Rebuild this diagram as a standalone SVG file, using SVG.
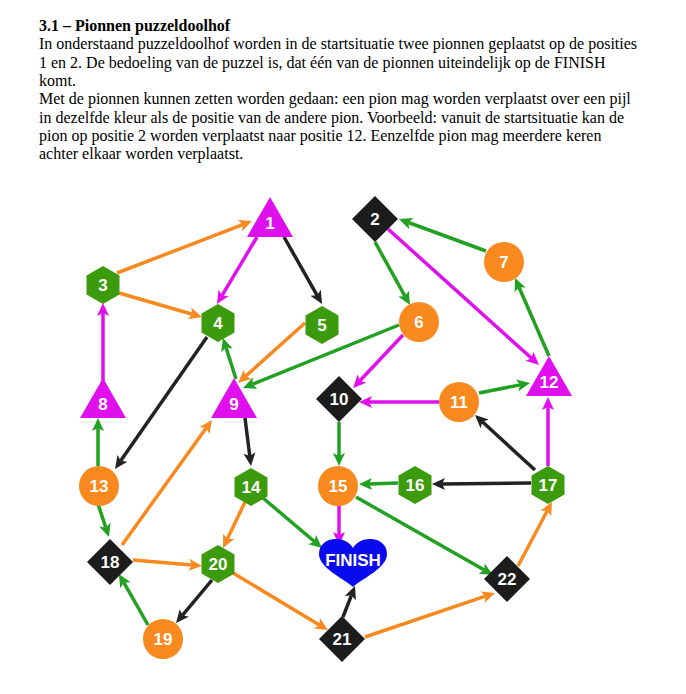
<svg xmlns="http://www.w3.org/2000/svg" width="686" height="694" viewBox="0 0 686 694">
<style>
.t{font-family:"Liberation Serif","Times New Roman",serif;font-size:16px;fill:#000}
.tb{font-weight:bold}
.e{fill:none;stroke-width:3.5}
.o{stroke:#F7891F}.m{stroke:#E010EE}.g{stroke:#22A022}.k{stroke:#222}
.hex{fill:#3C9B0C}.cir{fill:#F7891F}.tri{fill:#E010EE}.dia{fill:#1C1C1C}.heart{fill:#0A0AEE}
.lb{font-family:"Liberation Sans",Arial,sans-serif;font-weight:bold;font-size:17px;fill:#fff;text-anchor:middle}
</style>
<defs>
<marker id="ao" markerUnits="userSpaceOnUse" markerWidth="14" markerHeight="13" refX="3" refY="6.5" orient="auto" overflow="visible"><path d="M0,0.5 L13,6.5 L0,12.5 L3,6.5 Z" fill="#F7891F"/></marker>
<marker id="am" markerUnits="userSpaceOnUse" markerWidth="14" markerHeight="13" refX="3" refY="6.5" orient="auto" overflow="visible"><path d="M0,0.5 L13,6.5 L0,12.5 L3,6.5 Z" fill="#E010EE"/></marker>
<marker id="ag" markerUnits="userSpaceOnUse" markerWidth="14" markerHeight="13" refX="3" refY="6.5" orient="auto" overflow="visible"><path d="M0,0.5 L13,6.5 L0,12.5 L3,6.5 Z" fill="#22A022"/></marker>
<marker id="ak" markerUnits="userSpaceOnUse" markerWidth="14" markerHeight="13" refX="3" refY="6.5" orient="auto" overflow="visible"><path d="M0,0.5 L13,6.5 L0,12.5 L3,6.5 Z" fill="#222"/></marker>
<polygon id="hexs" points="0,-19 16.5,-9.5 16.5,9.5 0,19 -16.5,9.5 -16.5,-9.5"/>
<polygon id="tris" points="0,-22 23,18 -23,18"/>
<polygon id="dias" points="0,-23 23,0 0,23 -23,0"/>
</defs>
<rect width="686" height="694" fill="#fff"/>
<g id="text">
<text class="t tb" x="39" y="31">3.1 – Pionnen puzzeldoolhof</text>
<text class="t" x="39" y="49.3">In onderstaand puzzeldoolhof worden in de startsituatie twee pionnen geplaatst op de posities</text>
<text class="t" x="39" y="67.6">1 en 2. De bedoeling van de puzzel is, dat één van de pionnen uiteindelijk op de FINISH</text>
<text class="t" x="39" y="85.9">komt.</text>
<text class="t" x="39" y="104.2">Met de pionnen kunnen zetten worden gedaan: een pion mag worden verplaatst over een pijl</text>
<text class="t" x="39" y="122.5">in dezelfde kleur als de positie van de andere pion. Voorbeeld: vanuit de startsituatie kan de</text>
<text class="t" x="39" y="140.8">pion op positie 2 worden verplaatst naar positie 12. Eenzelfde pion mag meerdere keren</text>
<text class="t" x="39" y="159.1">achter elkaar worden verplaatst.</text>
</g>
<g id="connectors">
<path class="e o" marker-end="url(#ao)" d="M117,273 L242.7,224.6"/>
<path class="e o" marker-end="url(#ao)" d="M119,293 L192.4,314.2"/>
<path class="e m" marker-end="url(#am)" d="M257,237 L222.1,295.4"/>
<path class="e k" marker-end="url(#ak)" d="M284,237 L317.1,295.3"/>
<path class="e m" marker-end="url(#am)" d="M103,381 L103,313"/>
<path class="e k" marker-end="url(#ak)" d="M207,337 L120.7,460.8"/>
<path class="e g" marker-end="url(#ag)" d="M236,379 L226,347.5"/>
<path class="e o" marker-end="url(#ao)" d="M305,323 L245.5,376.3"/>
<path class="e g" marker-end="url(#ag)" d="M399,325 L252.3,384.3"/>
<path class="e k" marker-end="url(#ak)" d="M245,418 L249.8,456.1"/>
<path class="e g" marker-end="url(#ag)" d="M98,466 L98,428"/>
<path class="e o" marker-end="url(#ao)" d="M122,545 L206.2,428.1"/>
<path class="e g" marker-end="url(#ag)" d="M375,242 L405.1,296.3"/>
<path class="e m" marker-end="url(#am)" d="M388,229 L531.6,358.3"/>
<path class="e g" marker-end="url(#ag)" d="M486,251 L408.4,222.5"/>
<path class="e g" marker-end="url(#ag)" d="M549,356 L519,287.2"/>
<path class="e m" marker-end="url(#am)" d="M403,335 L359.9,380.7"/>
<path class="e m" marker-end="url(#am)" d="M439,402 L369,402"/>
<path class="e g" marker-end="url(#ag)" d="M479,393 L520.2,384.9"/>
<path class="e k" marker-end="url(#ak)" d="M535,470 L482.4,421.8"/>
<path class="e m" marker-end="url(#am)" d="M548,466 L548,407"/>
<path class="e g" marker-end="url(#ag)" d="M339,422 L339,456"/>
<path class="e g" marker-end="url(#ag)" d="M398,483 L369,484"/>
<path class="e k" marker-end="url(#ak)" d="M531,483 L442,484"/>
<path class="e m" marker-end="url(#am)" d="M339,506 L339,535"/>
<path class="e g" marker-end="url(#ag)" d="M356,497 L484.3,570.1"/>
<path class="e o" marker-end="url(#ao)" d="M518,566 L547.3,510.8"/>
<path class="e o" marker-end="url(#ao)" d="M365,637 L485.5,596.2"/>
<path class="e k" marker-end="url(#ak)" d="M343,617 L351.4,595.3"/>
<path class="e g" marker-end="url(#ag)" d="M263,498 L314.4,541.5"/>
<path class="e o" marker-end="url(#ao)" d="M245,502 L227.3,539"/>
<path class="e g" marker-end="url(#ag)" d="M98,504 L105.8,527.5"/>
<path class="e o" marker-end="url(#ao)" d="M133,560 L192,565.1"/>
<path class="e k" marker-end="url(#ak)" d="M212,580 L182.4,615.3"/>
<path class="e g" marker-end="url(#ag)" d="M148,625 L123.9,582.7"/>
<path class="e o" marker-end="url(#ao)" d="M233,573 L319.4,624.9"/>
</g>
<g id="n1" transform="translate(270,219)"><use href="#tris" class="tri"/><text class="lb" y="10">1</text></g>
<g id="n2" transform="translate(375,219)"><use href="#dias" class="dia"/><text class="lb" y="6">2</text></g>
<g id="n3" transform="translate(103,285)"><use href="#hexs" class="hex"/><text class="lb" y="6">3</text></g>
<g id="n4" transform="translate(218,323)"><use href="#hexs" class="hex"/><text class="lb" y="6">4</text></g>
<g id="n5" transform="translate(322,325)"><use href="#hexs" class="hex"/><text class="lb" y="6">5</text></g>
<g id="n6" transform="translate(419,322)"><circle r="20" class="cir"/><text class="lb" y="6">6</text></g>
<g id="n7" transform="translate(504,262)"><circle r="20" class="cir"/><text class="lb" y="6">7</text></g>
<g id="n8" transform="translate(103,400)"><use href="#tris" class="tri"/><text class="lb" y="10">8</text></g>
<g id="n9" transform="translate(234,400)"><use href="#tris" class="tri"/><text class="lb" y="10">9</text></g>
<g id="n10" transform="translate(339,399)"><use href="#dias" class="dia"/><text class="lb" y="6">10</text></g>
<g id="n11" transform="translate(459,402)"><circle r="20" class="cir"/><text class="lb" y="6">11</text></g>
<g id="n12" transform="translate(549,378)"><use href="#tris" class="tri"/><text class="lb" y="10">12</text></g>
<g id="n13" transform="translate(99,486)"><circle r="20" class="cir"/><text class="lb" y="6">13</text></g>
<g id="n14" transform="translate(251,487)"><use href="#hexs" class="hex"/><text class="lb" y="6">14</text></g>
<g id="n15" transform="translate(338,486)"><circle r="20" class="cir"/><text class="lb" y="6">15</text></g>
<g id="n16" transform="translate(415,485)"><use href="#hexs" class="hex"/><text class="lb" y="6">16</text></g>
<g id="n17" transform="translate(548,485)"><use href="#hexs" class="hex"/><text class="lb" y="6">17</text></g>
<g id="n18" transform="translate(110,562)"><use href="#dias" class="dia"/><text class="lb" y="6">18</text></g>
<g id="n19" transform="translate(163,639)"><circle r="20" class="cir"/><text class="lb" y="6">19</text></g>
<g id="n20" transform="translate(218,564)"><use href="#hexs" class="hex"/><text class="lb" y="6">20</text></g>
<g id="n21" transform="translate(342,639)"><use href="#dias" class="dia"/><text class="lb" y="6">21</text></g>
<g id="n22" transform="translate(507,579)"><use href="#dias" class="dia"/><text class="lb" y="6">22</text></g>
<g id="finish"><path class="heart" d="M353,587 C343,578 319,568 319,554 C319,545 326,539 336,539 C345,539 351,544 353,548 C355,544 361,539 370,539 C380,539 387,545 387,554 C387,568 363,578 353,587 Z"/><text class="lb" x="353" y="566">FINISH</text></g>
</svg>
